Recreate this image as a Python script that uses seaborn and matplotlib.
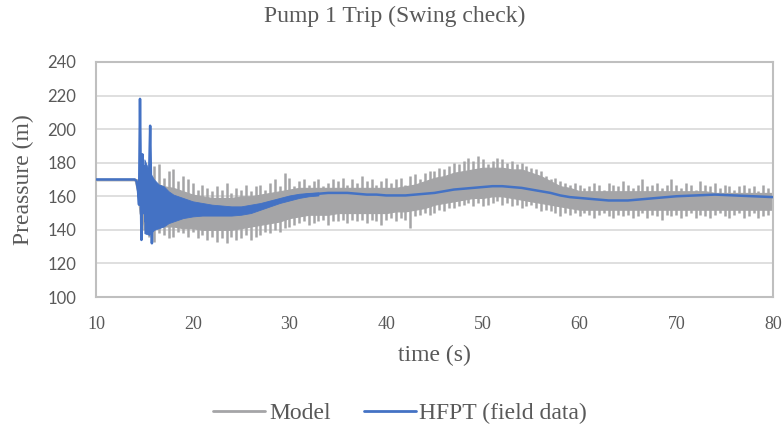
import numpy as np
import pandas as pd
import matplotlib
matplotlib.use("Agg")
import matplotlib.pyplot as plt
from matplotlib.lines import Line2D
import seaborn as sns

# Model (gray): dense body of the fast oscillation
model_t = [10, 14, 14.3, 14.5, 15, 16, 17, 18, 19, 20, 21, 22, 23, 24, 25, 26, 27,
           28, 29, 30, 31, 32, 33, 34, 35, 36, 37, 38, 39, 40, 41, 42, 43, 44, 45,
           46, 47, 48, 49, 50, 51, 52, 53, 54, 55, 56, 57, 58, 59, 60, 61, 62, 63,
           64, 65, 66, 67, 68, 69, 70, 71, 72, 73, 74, 75, 76, 77, 78, 79, 80]
model_hi = [170.5, 170.5, 170, 170, 170, 168, 166, 165, 163, 161, 160, 159, 159, 159,
            160, 160, 161, 162, 163, 164, 165, 165, 165, 165, 165, 165, 165, 165, 165,
            165, 165, 166, 167, 169, 171, 172, 174, 175, 176, 177, 177, 177, 176, 176,
            174, 172, 169, 166, 165, 163, 163, 163, 163, 163, 163, 163, 163, 163, 163,
            163, 163, 163, 163, 162, 162, 162, 162, 162, 162, 162]
model_lo = [169.5, 169.5, 162, 150, 142, 141, 142, 142, 141, 141, 140, 140, 140, 140,
            141, 142, 143, 144, 145, 147, 148, 149, 149, 149, 150, 150, 150, 150, 150,
            150, 151, 151, 152, 153, 155, 156, 157, 158, 159, 159, 160, 160, 159, 158,
            157, 156, 155, 154, 153, 152, 152, 152, 152, 152, 152, 152, 152, 152, 152,
            152, 152, 152, 152, 152, 152, 152, 152, 152, 152, 152]

# Model: peak / trough of each stroke of the oscillation, every 0.5 s from 15 s to 80 s
osc_hi = [176, 172, 178, 179, 171, 175, 176, 169, 172, 170,
          168, 164, 167, 165, 163, 166, 164, 168, 162, 165,
          164, 167, 163, 166, 167, 164, 168, 170, 166, 174,
          171, 166, 169, 170, 167, 169, 170, 166, 168, 170,
          169, 171, 167, 170, 168, 172, 169, 170, 167, 169,
          171, 168, 170, 171, 167, 172, 173, 170, 174, 175,
          175, 177, 176, 178, 180, 179, 181, 183, 181, 184,
          182, 179, 181, 183, 182, 180, 181, 179, 180, 178,
          177, 176, 175, 172, 170, 171, 169, 168, 167, 168,
          167, 165, 166, 168, 167, 164, 168, 167, 166, 169,
          167, 165, 167, 170, 166, 167, 168, 165, 167, 170,
          167, 165, 168, 167, 164, 169, 167, 166, 168, 165,
          167, 166, 164, 166, 167, 165, 166, 163, 167, 165,
          164]
osc_lo = [140, 136, 133, 138, 137, 135, 136, 139, 138, 136,
          139, 135, 137, 134, 136, 133, 135, 132, 136, 134,
          135, 137, 134, 136, 137, 139, 138, 140, 139, 141,
          142, 143, 144, 145, 143, 144, 145, 146, 143, 145,
          145, 146, 144, 146, 145, 146, 144, 146, 145, 143,
          146, 147, 145, 147, 146, 141, 148, 149, 150, 149,
          150, 152, 151, 153, 153, 154, 155, 156, 154, 156,
          154, 155, 156, 157, 155, 156, 154, 155, 153, 154,
          155, 153, 151, 152, 151, 150, 148, 150, 149, 150,
          148, 150, 149, 147, 149, 150, 148, 147, 149, 148,
          149, 147, 148, 150, 147, 149, 148, 146, 149, 148,
          149, 147, 148, 150, 147, 149, 148, 147, 149, 150,
          148, 147, 149, 150, 147, 148, 150, 147, 148, 149,
          150]
osc_t = np.arange(15.0, 80.01, 0.5)

# HFPT field data (blue): main trace including the trip spikes
hfpt_t = [10, 14.0, 14.2, 14.35, 14.45, 14.55, 14.6, 14.64, 14.7, 14.8, 14.9, 15.0,
          15.1, 15.2, 15.3, 15.45, 15.6, 15.7, 15.78, 15.9, 16.0, 16.5, 17, 18, 19, 20,
          21, 22, 23, 24, 25, 26, 27, 28, 29, 30, 31, 32, 33, 34, 35, 36, 37, 38, 39,
          40, 41, 42, 43, 44, 45, 46, 47, 48, 49, 50, 51, 52, 53, 54, 55, 56, 57, 58,
          59, 60, 61, 62, 63, 64, 65, 66, 67, 68, 69, 70, 72, 74, 76, 78, 80]
hfpt_p = [170, 170, 169, 163, 155, 218, 190, 160, 134, 185, 150, 178,
          145, 168, 140, 160, 202, 165, 132, 168, 145, 158, 155, 154, 153, 152.5,
          152, 151.5, 151.5, 151.5, 152, 153, 154.5, 156, 157.5, 159, 160, 161, 161.5, 162, 162, 162, 161.5, 161, 161,
          160.5, 160.5, 160.5, 161, 161.5, 162, 163, 164, 164.5, 165, 165.5, 166, 166, 165.5, 165, 164, 163, 162, 160.5,
          159.5, 159, 158.5, 158, 157.5, 157.5, 157.5, 158, 158.5, 159, 159.5, 160, 160.5, 161, 160.5, 160, 159.5]

# HFPT noise band after the trip
band_t = [15.0, 15.5, 16, 16.5, 17, 17.5, 18, 19, 20, 21, 22, 23, 24, 25, 26, 27, 28,
          29, 30, 31, 32, 33]
band_hi = [182, 175, 170, 167, 166, 163, 161, 159, 157, 156, 155, 154.5, 154, 154, 155,
           156, 157.5, 159, 160.5, 161.5, 162, 162.3]
band_lo = [138, 137, 140, 141, 142, 144, 145, 147, 148, 148.5, 148.5, 148.5, 148.5, 149,
           150, 152, 154, 156, 157.5, 159, 160, 160.5]

GRAY = "#A5A5A7"
BLUE = "#4472C4"
TXT = "#595959"
SERIF = ["Liberation Serif", "DejaVu Serif"]
SANS = ["Lato", "DejaVu Sans"]

sns.set_theme(style="white")
plt.rcParams["font.family"] = SERIF

fig = plt.figure(figsize=(7.83, 4.33), dpi=100)
ax = fig.add_axes([0.1226, 0.314, 0.8646, 0.543])

model = pd.DataFrame({"t": model_t, "hi": model_hi, "lo": model_lo})
strokes = pd.DataFrame({"t": osc_t, "hi": osc_hi, "lo": osc_lo})
hfpt = pd.DataFrame({"t": hfpt_t, "p": hfpt_p})

ax.fill_between(model["t"], model["lo"], model["hi"], color=GRAY, lw=0.8, zorder=2)
ax.vlines(strokes["t"], strokes["lo"], strokes["hi"], color=GRAY, lw=1.8, zorder=2)

ax.fill_between(band_t, band_lo, band_hi, color=BLUE, lw=0.6, zorder=3)
sns.lineplot(data=hfpt, x="t", y="p", color=BLUE, lw=1.8, estimator=None,
             sort=False, ax=ax, zorder=4)

ax.set_xlim(10, 80)
ax.set_ylim(100, 240)
ax.set_xticks(range(10, 81, 10))
ax.set_yticks(range(100, 241, 20))
ax.yaxis.grid(True, color="#D9D9D9", lw=1.2)
ax.set_axisbelow(True)
for s in ax.spines.values():
    s.set_visible(True)
    s.set_color("#BFBFBF")
    s.set_linewidth(1.5)
ax.tick_params(axis="both", length=0, colors=TXT)
ax.tick_params(axis="x", pad=14, labelsize=13)
ax.tick_params(axis="y", pad=14, labelsize=12)
for lbl in ax.get_yticklabels():
    lbl.set_fontfamily(SANS)

ax.set_xlabel("time (s)", fontsize=17, color=TXT, labelpad=8)
ax.set_ylabel("Preassure (m)", fontsize=17, color=TXT, labelpad=10)
fig.text(0.504, 0.962, "Pump 1 Trip (Swing check)", fontsize=17, color=TXT,
         ha="center", va="center")

handles = [Line2D([0], [0], color=GRAY, lw=2),
           Line2D([0], [0], color=BLUE, lw=2)]
leg = fig.legend(handles, ["Model", "HFPT (field data)"], loc="center",
                 bbox_to_anchor=(0.511, 0.046), ncol=2, frameon=False, fontsize=17,
                 handlelength=2.2, handletextpad=0.15, columnspacing=1.4)
for t in leg.get_texts():
    t.set_color(TXT)

fig.savefig("out.png", dpi=100)
